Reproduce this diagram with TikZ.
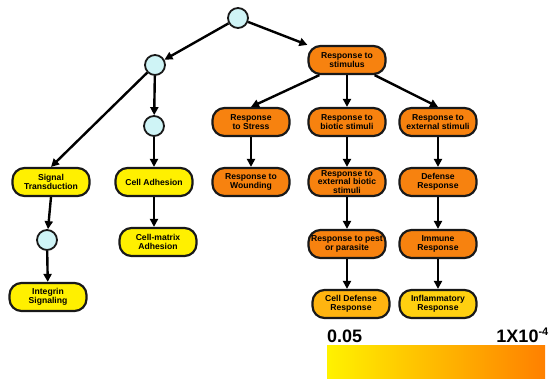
\documentclass[tikz,border=0pt]{standalone}
\usepackage{fontspec}
\setmainfont{Liberation Sans}
\usetikzlibrary{arrows.meta}
\definecolor{ornode}{HTML}{F7820F}
\definecolor{ylnode}{HTML}{FFF000}
\definecolor{ambnode}{HTML}{FFB410}
\definecolor{goldnode}{HTML}{FFD010}
\definecolor{circfill}{HTML}{CFF4F6}
\definecolor{gradL}{HTML}{FFF200}
\definecolor{gradR}{HTML}{FF8000}
\tikzset{
  pill/.style={draw=black!90, line width=2.2pt, rounded corners=12pt, minimum width=77pt, minimum height=28pt, inner sep=0pt, align=center, font=\bfseries\fontsize{8.6}{8.8}\selectfont},
  orpill/.style={pill, fill=ornode},
  ylpill/.style={pill, fill=ylnode},
  dot/.style={circle, draw=black!90, line width=1.8pt, fill=circfill, minimum size=20pt, inner sep=0pt},
  conn/.style={line width=2.4pt, -{Triangle[length=8pt,width=8pt]}},
}
\begin{document}
\begin{tikzpicture}[x=1pt,y=-1pt]
\useasboundingbox (0,0) rectangle (552,378);
% circles
\node[dot] (c0) at (238,18) {};
\node[dot] (c1) at (155,65) {};
\node[dot] (c2) at (154,126) {};
\node[dot] (c3) at (47,240) {};
% nodes
\node[orpill] (stim) at (347,60) {Response to\\stimulus};
\node[orpill] (stress) at (251,122) {Response\\to Stress};
\node[orpill] (biotic) at (347,122) {Response to\\biotic stimuli};
\node[orpill] (ext) at (438,122) {Response to\\external stimuli};
\node[ylpill] (sig) at (51,182) {Signal\\Transduction};
\node[ylpill] (adh) at (154,182) {Cell Adhesion};
\node[orpill] (wound) at (251,182) {Response to\\Wounding};
\node[orpill] (extbio) at (347,182) {Response to\\external biotic\\stimuli};
\node[orpill] (def) at (438,182) {Defense\\Response};
\node[ylpill] (cmadh) at (158,242) {Cell-matrix\\Adhesion};
\node[orpill] (pest) at (347,244) {Response to pest\\or parasite};
\node[orpill] (imm) at (438,244) {Immune\\Response};
\node[ylpill] (integ) at (48,297) {Integrin\\Signaling};
\node[pill, fill=ambnode] (celldef) at (351,304) {Cell Defense\\Response};
\node[pill, fill=goldnode] (infl) at (438,304) {Inflammatory\\Response};
% connectors
\draw[conn] (c0) -- (c1);
\draw[conn] (c0) -- (stim.north west);
\draw[conn] (c1) -- (sig.north);
\draw[conn] (c1) -- (c2);
\draw[conn] (c2) -- (adh);
\draw[conn] (adh) -- (cmadh.north -| adh);
\draw[conn] (sig.south) -- (c3);
\draw[conn] (c3) -- (integ);
\draw[conn] (stim.south west) ++(12,0) coordinate (s1) (s1) -- (stress.north);
\draw[conn] (stim) -- (biotic);
\draw[conn] (stim.south east) ++(-12,0) coordinate (s3) (s3) -- (ext.north);
\draw[conn] (stress) -- (wound);
\draw[conn] (biotic) -- (extbio);
\draw[conn] (ext) -- (def);
\draw[conn] (extbio) -- (pest);
\draw[conn] (pest) -- (celldef.north -| pest);
\draw[conn] (def) -- (imm);
\draw[conn] (imm) -- (infl);
% gradient legend
\node[inner sep=0pt, left color=gradL, right color=gradR, minimum width=218pt, minimum height=34pt, anchor=north west] (bar) at (327,345) {};
\node[anchor=base west, inner sep=0pt, font=\bfseries\fontsize{18}{20}\selectfont] (lo) at (327,342) {0.05};
\node[anchor=base east, inner sep=0pt, font=\bfseries\fontsize{18}{20}\selectfont] (hi) at (549,342) {1X10\textsuperscript{\fontsize{11}{12}\selectfont-4}};
\end{tikzpicture}
\end{document}
